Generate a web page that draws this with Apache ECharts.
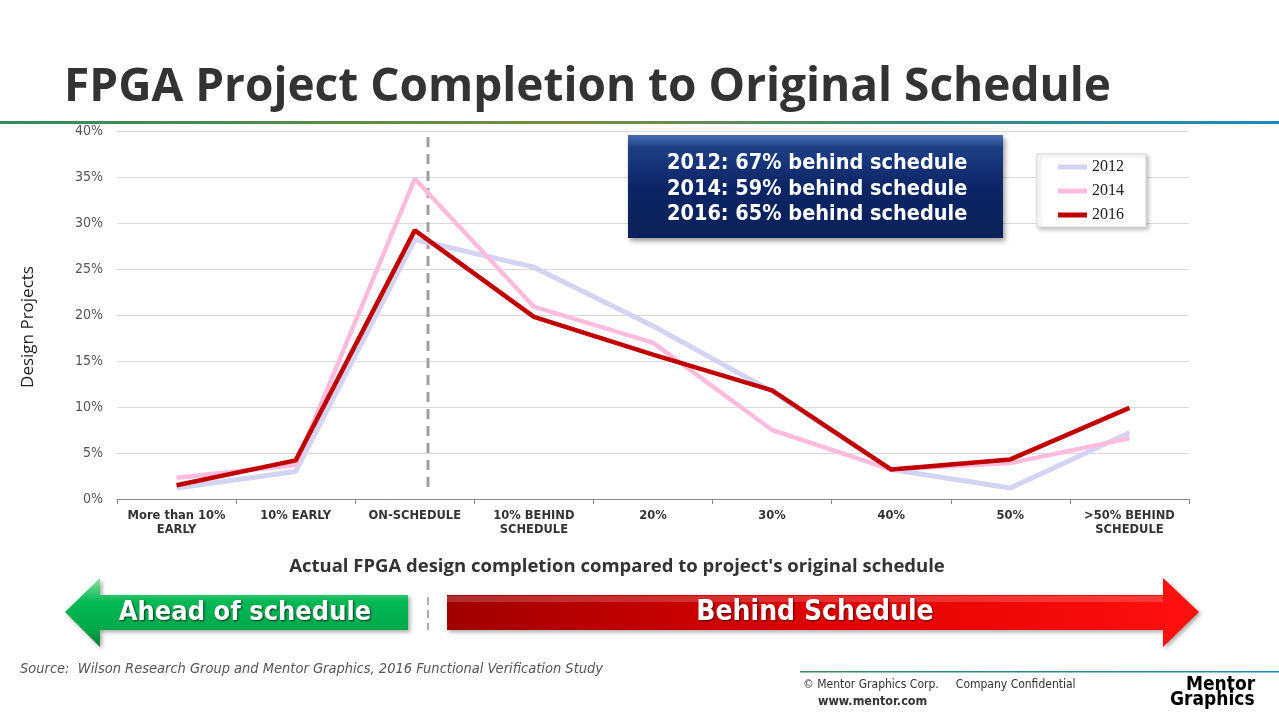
<!DOCTYPE html>
<html>
<head>
<meta charset="utf-8">
<script src="https://cdn.jsdelivr.net/npm/echarts@6/dist/echarts.min.js"></script>
<style>
html,body{margin:0;padding:0;background:#fff;}
#chart{width:1279px;height:720px;}
</style>
</head>
<body>
<div id="chart"></div>
<script>
var categories = ['More than 10%\nEARLY', '10% EARLY', 'ON-SCHEDULE', '10% BEHIND\nSCHEDULE', '20%', '30%', '40%', '50%', '>50% BEHIND\nSCHEDULE'];
var seriesNames = ['2012', '2014', '2016'];
var values2012 = [1.2, 3.0, 28.2, 25.2, 18.8, 11.7, 3.2, 1.2, 7.2];
var values2014 = [2.3, 3.7, 34.8, 20.9, 17.0, 7.5, 3.2, 3.9, 6.6];
var values2016 = [1.5, 4.2, 29.2, 19.8, 15.7, 11.8, 3.2, 4.3, 9.9];
var yTicks = [0, 5, 10, 15, 20, 25, 30, 35, 40];
var summaryLines = ['2012: 67% behind schedule', '2014: 59% behind schedule', '2016: 65% behind schedule'];

var chart = echarts.init(document.getElementById('chart'));
var condensed = '"DejaVu Sans Condensed", "DejaVu Sans", sans-serif';

var option = {
  backgroundColor: '#ffffff',
  animation: false,
  grid: { left: 117, right: 90, top: 131, bottom: 221, containLabel: false },
  legend: {
    orient: 'vertical',
    left: 1037, top: 154,
    data: seriesNames,
    icon: 'rect',
    itemWidth: 29, itemHeight: 5,
    itemGap: 6,
    padding: [4, 22, 3, 21],
    backgroundColor: '#ffffff',
    borderColor: '#d9d9d9', borderWidth: 1,
    shadowColor: 'rgba(0,0,0,0.25)', shadowBlur: 4, shadowOffsetX: 2, shadowOffsetY: 2,
    textStyle: { fontFamily: '"Liberation Serif", "DejaVu Serif", serif', fontSize: 16, color: '#222', lineHeight: 18 }
  },
  xAxis: {
    type: 'category',
    data: categories,
    boundaryGap: true,
    name: "Actual FPGA design completion compared to project's original schedule",
    nameLocation: 'middle',
    nameGap: 58,
    nameTextStyle: { fontFamily: '"Open Sans", sans-serif', fontWeight: 'bold', fontSize: 18.5, color: '#333', padding: [0, 72, 0, 0] },
    axisLine: { lineStyle: { color: '#888', width: 1 } },
    axisTick: { show: true, alignWithLabel: false, length: 5, lineStyle: { color: '#888' } },
    axisLabel: { interval: 0, margin: 10, fontFamily: '"DejaVu Sans", sans-serif', fontWeight: 'bold', fontSize: 11.5, color: '#333', lineHeight: 14 },
    splitLine: { show: false }
  },
  yAxis: {
    type: 'value',
    min: 0, max: 40, interval: 5,
    name: 'Design Projects',
    nameLocation: 'middle',
    nameGap: 80,
    nameRotate: 90,
    nameTextStyle: { fontFamily: '"Open Sans", sans-serif', fontSize: 17, color: '#222', padding: [0, 24, 0, 0] },
    axisLine: { show: false },
    axisTick: { show: false },
    axisLabel: {
      margin: 14,
      fontFamily: condensed,
      fontSize: 14, color: '#555',
      formatter: function (v) { return yTicks.indexOf(v) >= 0 ? v + '%' : ''; }
    },
    splitLine: { lineStyle: { color: '#d9d9d9', width: 1 } }
  },
  series: [
    { name: seriesNames[0], type: 'line', data: values2012, showSymbol: false, symbol: 'none',
      lineStyle: { color: '#d3d3f2', width: 5 }, itemStyle: { color: '#d3d3f2' }, z: 2 },
    { name: seriesNames[1], type: 'line', data: values2014, showSymbol: false, symbol: 'none',
      lineStyle: { color: '#ffbcdc', width: 4.5 }, itemStyle: { color: '#ffbcdc' }, z: 3 },
    { name: seriesNames[2], type: 'line', data: values2016, showSymbol: false, symbol: 'none',
      lineStyle: { color: '#c00000', width: 4.5 }, itemStyle: { color: '#c00000' }, z: 4 }
  ],
  graphic: [
    // title
    { type: 'text', left: 64, top: 65, z: 10,
      style: { text: 'FPGA Project Completion to Original Schedule', fontFamily: '"Open Sans", sans-serif', fontWeight: 'bold', fontSize: 46, fill: '#333333' } },
    // top rule
    { type: 'rect', shape: { x: 0, y: 121, width: 1279, height: 3 },
      style: { fill: new echarts.graphic.LinearGradient(0, 0, 1, 0, [
        { offset: 0, color: '#2e8b5e' }, { offset: 0.45, color: '#7a8c3c' }, { offset: 0.7, color: '#3f8a78' }, { offset: 1, color: '#1a8abf' }]) } },
    // vertical dashed line
    { type: 'line', shape: { x1: 428, y1: 137, x2: 428, y2: 487 }, z: 1,
      style: { stroke: '#a0a0a0', lineWidth: 3, lineDash: [10, 7] } },
    { type: 'line', shape: { x1: 428, y1: 597, x2: 428, y2: 630 },
      style: { stroke: '#b0b0b0', lineWidth: 2, lineDash: [8, 5] } },
    // summary box
    { type: 'rect', shape: { x: 628, y: 135, width: 375, height: 103 }, z: 10,
      style: { fill: new echarts.graphic.LinearGradient(0, 0, 0, 1, [
        { offset: 0, color: '#4a6cb4' }, { offset: 0.12, color: '#1f3f85' }, { offset: 0.5, color: '#0c2566' }, { offset: 1, color: '#0b2159' }]),
        shadowColor: 'rgba(0,0,0,0.4)', shadowBlur: 5, shadowOffsetX: 2, shadowOffsetY: 3 } },
    { type: 'text', left: 667, top: 151, z: 11,
      style: { text: summaryLines.join('\n'), fontFamily: condensed, fontWeight: 'bold', fontSize: 21.5, lineHeight: 25.5, fill: '#ffffff' } },
    // green arrow
    { type: 'polygon', z: 5,
      shape: { points: [[65, 612], [100, 578], [100, 595], [408, 595], [408, 630], [100, 630], [100, 647]] },
      style: { fill: new echarts.graphic.LinearGradient(0, 0, 0, 1, [
        { offset: 0, color: '#8fe0a0' }, { offset: 0.35, color: '#00b854' }, { offset: 0.75, color: '#00a84a' }, { offset: 1, color: '#007a36' }]),
        shadowColor: 'rgba(0,0,0,0.35)', shadowBlur: 4, shadowOffsetX: 2, shadowOffsetY: 2 } },
    { type: 'text', z: 6, x: 245, y: 613,
      style: { text: 'Ahead of schedule', align: 'center', verticalAlign: 'middle', fontFamily: condensed, fontWeight: 'bold', fontSize: 27, fill: '#ffffff',
        textShadowColor: 'rgba(0,0,0,0.7)', textShadowBlur: 2, textShadowOffsetX: 1, textShadowOffsetY: 1 } },
    // red arrow
    { type: 'polygon', z: 5,
      shape: { points: [[447, 595], [1163, 595], [1163, 578], [1199, 612], [1163, 647], [1163, 630], [447, 630]] },
      style: { fill: new echarts.graphic.LinearGradient(0, 0, 1, 0, [
        { offset: 0, color: '#a00000' }, { offset: 0.5, color: '#e00000' }, { offset: 1, color: '#ff1010' }]),
        shadowColor: 'rgba(0,0,0,0.35)', shadowBlur: 4, shadowOffsetX: 2, shadowOffsetY: 2 } },
    { type: 'rect', z: 5, shape: { x: 447, y: 596, width: 716, height: 6 },
      style: { fill: 'rgba(255,255,255,0.18)' } },
    { type: 'text', z: 6, x: 815, y: 613,
      style: { text: 'Behind Schedule', align: 'center', verticalAlign: 'middle', fontFamily: condensed, fontWeight: 'bold', fontSize: 28, fill: '#ffffff',
        textShadowColor: 'rgba(0,0,0,0.6)', textShadowBlur: 2, textShadowOffsetX: 1, textShadowOffsetY: 1 } },
    // source
    { type: 'text', left: 20, top: 662,
      style: { text: 'Source:  Wilson Research Group and Mentor Graphics, 2016 Functional Verification Study', fontFamily: condensed, fontStyle: 'italic', fontSize: 14.5, fill: '#555' } },
    // footer rule
    { type: 'rect', shape: { x: 800, y: 671, width: 479, height: 1.5 },
      style: { fill: new echarts.graphic.LinearGradient(0, 0, 1, 0, [
        { offset: 0, color: '#3a8a5a' }, { offset: 1, color: '#1a8abf' }]) } },
    { type: 'text', left: 803, top: 679,
      style: { text: '\u00a9 Mentor Graphics Corp.     Company Confidential', fontFamily: condensed, fontSize: 12, fill: '#333' } },
    { type: 'text', left: 818, top: 695,
      style: { text: 'www.mentor.com', fontFamily: condensed, fontWeight: 'bold', fontSize: 12.5, fill: '#333' } },
    // logo
    { type: 'text', left: 1186, top: 676,
      style: { text: 'Mentor', fontFamily: condensed, fontWeight: 'bold', fontSize: 19, fill: '#000' } },
    { type: 'text', left: 1170, top: 691,
      style: { text: 'Graphics', fontFamily: condensed, fontWeight: 'bold', fontSize: 19, fill: '#000' } }
  ]
};
chart.setOption(option);
</script>
</body>
</html>
